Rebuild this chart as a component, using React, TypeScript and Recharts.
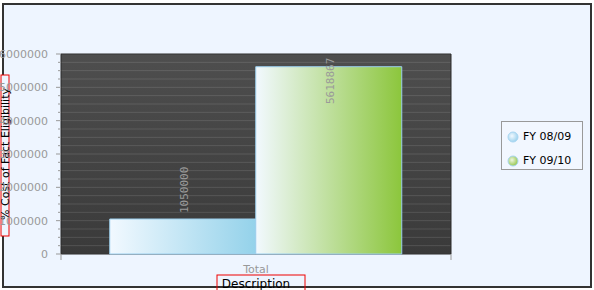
import { BarChart, Bar, XAxis, YAxis, CartesianGrid, Legend, LabelList, ReferenceArea } from 'recharts';

const categories = ['Total'];
const fy0809 = [1050000];
const fy0910 = [5618867];
const seriesNames = ['FY 08/09', 'FY 09/10'];
const yMax = 6000000;
const majorStep = 1000000;
// minor ticks / stripes every 250k, labels only on the millions
const yTicks = Array.from({ length: 25 }, (_, i) => i * 250000);

const data = categories.map((name, i) => ({ name, fy0809: fy0809[i], fy0910: fy0910[i] }));

const PLOT_TOP = 54;
const tickFont = { fontFamily: 'DejaVu Sans', fontSize: 11, fill: '#999' };

function ValueLabel(props: any) {
  const { x, y, width, value } = props;
  const cx = x + width / 2 + 5;
  // keep the rotated label inside the plot when the bar is tall
  const ty = Math.max(y - 6, PLOT_TOP + 50);
  return (
    <text
      x={cx}
      y={ty}
      transform={`rotate(-90 ${cx} ${ty})`}
      fontFamily="DejaVu Sans Mono"
      fontSize={11}
      fill="#9a9a9a"
    >
      {value}
    </text>
  );
}

function ValueTick(props: any) {
  const { x, y, payload } = props;
  const major = payload.value % majorStep === 0;
  return (
    <g>
      <line x1={x - (major ? 5 : 3)} x2={x} y1={y} y2={y} stroke="#999" />
      {major && (
        <text x={x - 13} y={y + 4} textAnchor="end" {...tickFont}>{payload.value}</text>
      )}
    </g>
  );
}

function CategoryTick(props: any) {
  const { x, y, payload } = props;
  const half = payload.offset || 0;
  return (
    <g>
      <line x1={x - half} x2={x - half} y1={y} y2={y + 6} stroke="#999" />
      <line x1={x + half} x2={x + half} y1={y} y2={y + 6} stroke="#999" />
      <text x={x} y={y + 19} textAnchor="middle" {...tickFont}>{payload.value}</text>
    </g>
  );
}

function XTitle(props: any) {
  const { viewBox } = props;
  const cx = viewBox.x + viewBox.width / 2;
  return (
    <g>
      <rect x={cx - 39} y={275} width={88} height={20} fill="none" stroke="#e00" />
      <text x={cx} y={288} textAnchor="middle" fontFamily="DejaVu Sans" fontSize={12} fill="#000">Description</text>
    </g>
  );
}

function YTitle(props: any) {
  const { viewBox } = props;
  const cy = viewBox.y + viewBox.height / 2;
  return (
    <g>
      <rect x={1} y={75} width={8} height={161} fill="#eef5ff" stroke="#e00" />
      <text
        x={9}
        y={cy}
        transform={`rotate(-90 9 ${cy})`}
        textAnchor="middle"
        fontFamily="DejaVu Sans"
        fontSize={11}
        fill="#000"
      >
        % Cost of Fact Eligibility
      </text>
    </g>
  );
}

function LegendBox(props: any) {
  const { payload = [] } = props;
  return (
    <div
      style={{
        border: '1px solid #999',
        background: '#f2f7ff',
        width: 82,
        height: 49,
        boxSizing: 'border-box',
        padding: '3px 0 0 5px',
        fontFamily: 'DejaVu Sans',
        fontSize: 11,
        color: '#000',
      }}
    >
      {payload.map((p: any, i: number) => (
        <div key={p.value} style={{ display: 'flex', alignItems: 'center', height: 19, marginTop: i === 0 ? 2 : 5 }}>
          <svg width={12} height={12} style={{ marginRight: 4 }}>
            <circle cx={6} cy={6} r={5} fill={`url(#dot${i})`} stroke="#a9d6f2" strokeWidth={1} />
          </svg>
          {p.value}
        </div>
      ))}
    </div>
  );
}

export default function App() {
  return (
    <div style={{ position: 'relative', width: 594, height: 290, background: '#fff' }}>
      <style>{'body{margin:0}'}</style>
      <div
        style={{
          position: 'absolute',
          left: 2,
          top: 3,
          width: 590,
          height: 285,
          boxSizing: 'border-box',
          border: '2px solid #333',
          background: '#eef5ff',
        }}
      />
      <svg width={0} height={0} style={{ position: 'absolute' }}>
        <defs>
          <radialGradient id="dot0" cx="40%" cy="40%" r="60%">
            <stop offset="0%" stopColor="#f2f9ff" />
            <stop offset="100%" stopColor="#9fd3ee" />
          </radialGradient>
          <radialGradient id="dot1" cx="40%" cy="40%" r="60%">
            <stop offset="0%" stopColor="#eef6e0" />
            <stop offset="100%" stopColor="#98c850" />
          </radialGradient>
        </defs>
      </svg>
      <BarChart
        width={594}
        height={290}
        data={data}
        margin={{ top: PLOT_TOP, right: 143, bottom: 16, left: 0 }}
        barGap={0}
        barCategoryGap="12.5%"
        style={{ position: 'absolute', left: 0, top: 0 }}
      >
        <defs>
          <linearGradient id="plotBg" x1="0" y1="0" x2="0" y2="1">
            <stop offset="0%" stopColor="#4e4e4e" />
            <stop offset="100%" stopColor="#3a3a3a" />
          </linearGradient>
          <linearGradient id="barBlue" x1="0" y1="0" x2="1" y2="0">
            <stop offset="0%" stopColor="#f2f9ff" />
            <stop offset="100%" stopColor="#94d2ea" />
          </linearGradient>
          <linearGradient id="barGreen" x1="0" y1="0" x2="1" y2="0">
            <stop offset="0%" stopColor="#f2f9ff" />
            <stop offset="100%" stopColor="#8cc63c" />
          </linearGradient>
        </defs>
        <CartesianGrid
          vertical={false}
          fill="url(#plotBg)"
          fillOpacity={1}
          stroke="#ffffff"
          strokeOpacity={0.12}
        />
        <XAxis
          dataKey="name"
          height={20}
          axisLine={false}
          tickLine={false}
          tickSize={0}
          tickMargin={0}
          tick={<CategoryTick />}
          label={<XTitle />}
        />
        <YAxis
          domain={[0, yMax]}
          ticks={yTicks}
          width={61}
          interval={0}
          tickSize={0}
          tickMargin={0}
          axisLine={false}
          tickLine={false}
          tick={<ValueTick />}
          label={<YTitle />}
        />
        <ReferenceArea y1={0} y2={yMax} fill="none" stroke="#2a2a2a" strokeWidth={1} ifOverflow="visible" />
        <Bar dataKey="fy0809" name={seriesNames[0]} fill="url(#barBlue)" stroke="#9bcfee" strokeWidth={1} isAnimationActive={false}>
          <LabelList dataKey="fy0809" content={<ValueLabel />} />
        </Bar>
        <Bar dataKey="fy0910" name={seriesNames[1]} fill="url(#barGreen)" stroke="#9bcfee" strokeWidth={1} isAnimationActive={false}>
          <LabelList dataKey="fy0910" content={<ValueLabel />} />
        </Bar>
        <Legend
          layout="vertical"
          align="center"
          verticalAlign="middle"
          content={<LegendBox />}
          wrapperStyle={{ left: 501, top: 121, width: 82, height: 49 }}
        />
      </BarChart>
    </div>
  );
}
